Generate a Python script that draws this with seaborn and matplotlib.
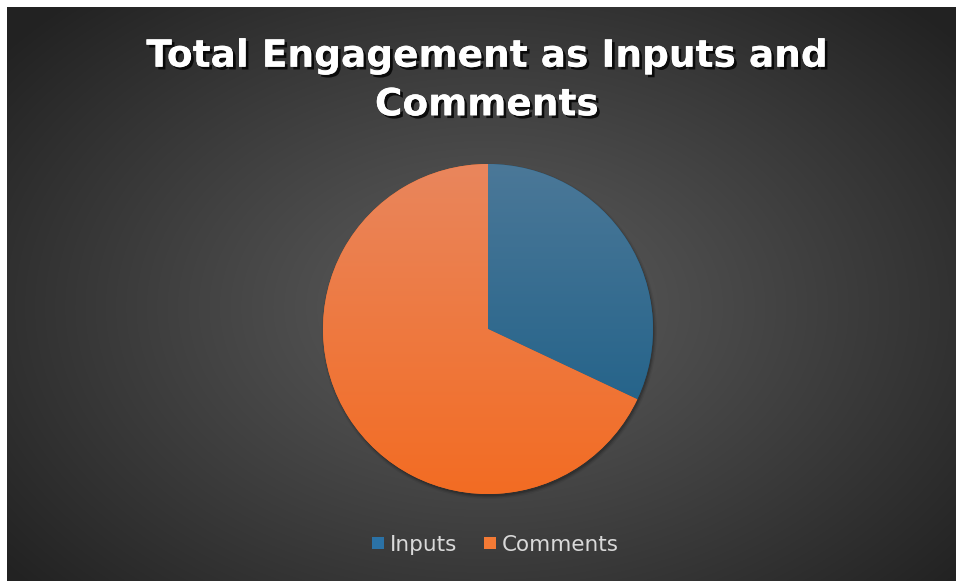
import numpy as np
import matplotlib
matplotlib.use("Agg")
import matplotlib.pyplot as plt
import matplotlib.patheffects as pe
from matplotlib.lines import Line2D
from matplotlib.patches import Circle
from matplotlib.colors import to_rgb
import seaborn as sns

# Chart data
categories = ["Inputs", "Comments"]
values = [32, 68]
title_text = "Total Engagement as Inputs and\nComments"

# Slice shading (light at the top, deeper at the bottom) and legend swatches
slice_top = ["#4b7898", "#e9865d"]
slice_bottom = ["#175c85", "#f36c23"]
legend_colors = ["#2b72a6", "#f47a35"]

sns.set_theme(style="dark")
plt.rcParams["font.family"] = ["DejaVu Sans"]

W, H = 958, 581
fig = plt.figure(figsize=(W / 100, H / 100), dpi=100, facecolor="white")

# Dark radial-gradient chart area inside a thin white margin
bw, bh = 949, 574
bg = fig.add_axes([7 / W, 0, bw / W, bh / H])
bg.set_axis_off()
yy, xx = np.mgrid[0:bh, 0:bw]
r = np.sqrt(((xx - 480) / 620.0) ** 2 + ((yy - 300) / 420.0) ** 2)
shade = 92 - 58 * np.clip(r, 0, 1) ** 1.1
bg_img = np.dstack([shade, shade, shade]) / 255.0
bg.imshow(bg_img, aspect="auto", extent=(0, 1, 0, 1), interpolation="bilinear")
bg.set_xlim(0, 1)
bg.set_ylim(0, 1)

# Pie axes: centre (488, 329) px, radius 165 px
R = 165
pad = 1.1
side = 2 * pad * R
cxp, cyp = 488, 329
ax = fig.add_axes([(cxp - side / 2) / W, (H - cyp - side / 2) / H, side / W, side / H])
ax.set_axis_off()
ax.patch.set_alpha(0)

# soft drop shadow under the pie
for k, a in enumerate([0.06, 0.10, 0.16]):
    ax.add_patch(Circle((0.008, -0.014), 1.0 + 0.008 * (2 - k), color="black",
                        alpha=a, zorder=0, lw=0))

wedges, _ = ax.pie(values, startangle=90, counterclock=False,
                   colors=slice_bottom, radius=1.0,
                   wedgeprops=dict(linewidth=0, zorder=2))

# vertical gradient inside each slice
ny = 256
t = np.linspace(0, 1, ny)[:, None]
for w, ctop, cbot in zip(wedges, slice_top, slice_bottom):
    c1 = np.array(to_rgb(ctop))
    c2 = np.array(to_rgb(cbot))
    grad = c1[None, None, :] * (1 - t[..., None]) + c2[None, None, :] * t[..., None]
    grad = np.repeat(grad, 4, axis=1)
    im = ax.imshow(grad, extent=(-1, 1, -1, 1), origin="upper", aspect="auto",
                   interpolation="bilinear", zorder=3)
    im.set_clip_path(w)

ax.set_xlim(-pad, pad)
ax.set_ylim(-pad, pad)
ax.set_aspect("equal")

# Title with drop shadow
fig.text(487 / W, 1 - 81 / H, title_text, ha="center", va="center",
         fontsize=27, fontweight="bold", color="white", linespacing=1.45,
         path_effects=[pe.withSimplePatchShadow(offset=(2, -2), shadow_rgbFace="black",
                                                alpha=0.8), pe.Normal()])

# Legend
handles = [Line2D([0], [0], marker="s", linestyle="none", markersize=8,
                  markerfacecolor=c, markeredgewidth=0) for c in legend_colors]
fig.legend(handles, categories, loc="center", bbox_to_anchor=(493 / W, 1 - 545 / H),
           ncol=2, frameon=False, fontsize=15.5, labelcolor="#d9d9d9",
           handletextpad=0.05, columnspacing=1.0, handlelength=1.0)

fig.savefig("out.png", dpi=100, facecolor="white")
